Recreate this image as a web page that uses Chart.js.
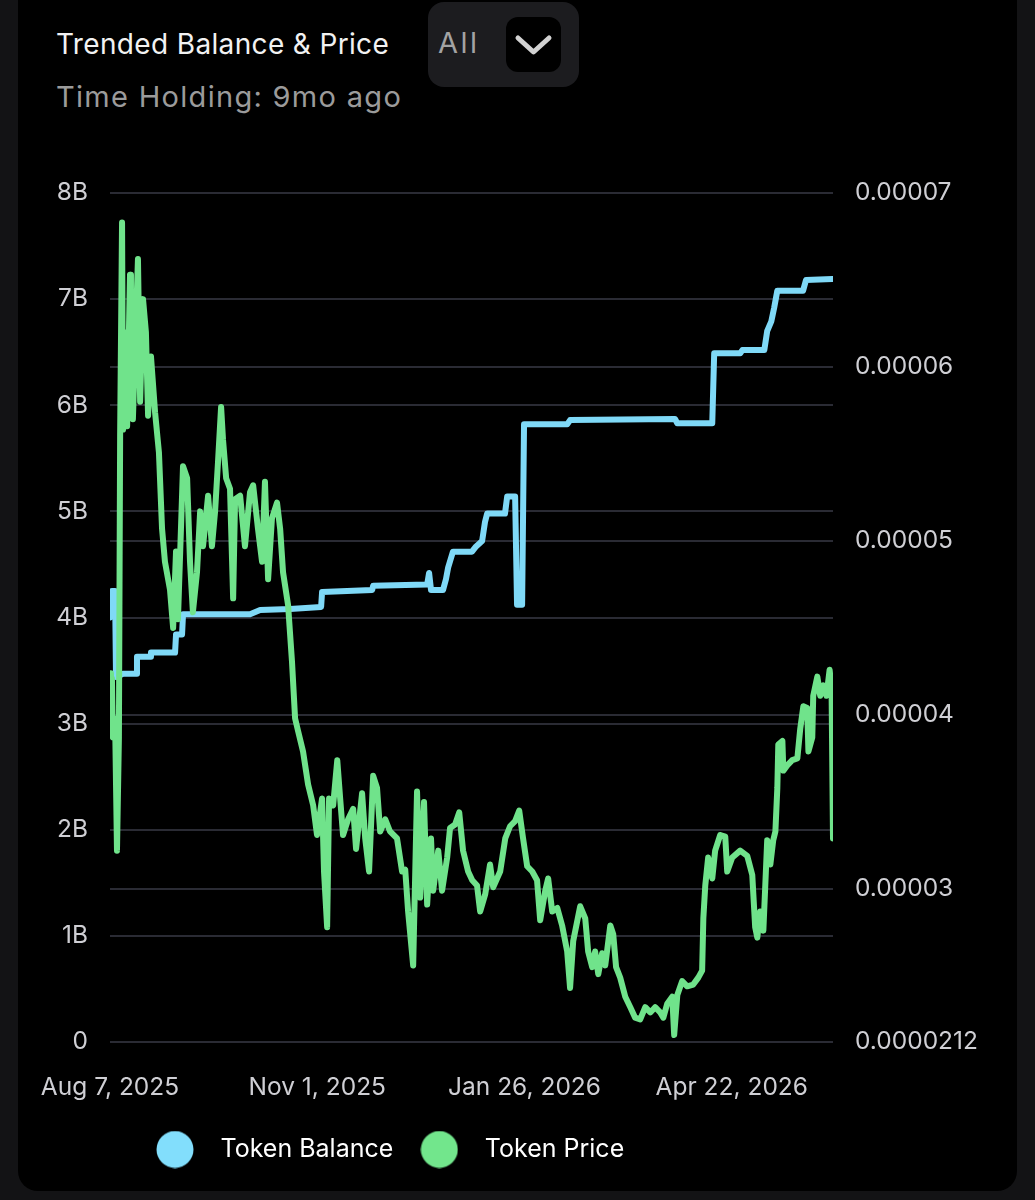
<!DOCTYPE html>
<html>
<head>
<meta charset="utf-8">
<script src="https://cdn.jsdelivr.net/npm/chart.js@4.4.1/dist/chart.umd.min.js"></script>
<style>
html,body{margin:0;padding:0;background:#131315;width:1035px;height:1200px;overflow:hidden;}
#card{position:absolute;left:18px;top:-30px;width:999px;height:1221px;background:#000;border-radius:20px;}
.title{position:absolute;left:56px;top:27px;font:400 28px/34px Inter,sans-serif;color:#f2f2f2;white-space:nowrap;letter-spacing:0.35px;}
.sub{position:absolute;left:56px;top:79px;font:400 29px/36px Inter,sans-serif;color:#9b9b9b;white-space:nowrap;letter-spacing:1.3px;}
#dd{position:absolute;left:428px;top:2px;width:151px;height:85px;background:#1c1c1f;border-radius:16px;}
#dd .all{position:absolute;left:10px;top:24px;font:400 29px/34px Inter,sans-serif;color:#a3a3a3;letter-spacing:2.5px;}
#dd .chev{position:absolute;left:78px;top:15px;width:55px;height:55px;background:#000;border-radius:12px;}
#dd svg{position:absolute;left:0;top:0;}
#chart{position:absolute;left:0;top:0;}
</style>
</head>
<body>
<div id="card"></div>
<div class="title">Trended Balance &amp; Price</div>
<div class="sub">Time Holding: 9mo ago</div>
<div id="dd"><div class="all">All</div><div class="chev"><svg width="55" height="55"><polyline points="12,21 27.5,35 43,21" fill="none" stroke="#d2d2d2" stroke-width="5" stroke-linecap="round" stroke-linejoin="round"/></svg></div></div>
<canvas id="chart" width="1035" height="1200"></canvas>
<script>
// ---- axis ticks ----
const xTickDays = [0, 86, 172, 258];
const xTickLabels = ['Aug 7, 2025', 'Nov 1, 2025', 'Jan 26, 2026', 'Apr 22, 2026'];
const balanceTickValues = [0, 1e9, 2e9, 3e9, 4e9, 5e9, 6e9, 7e9, 8e9];
const balanceTickLabels = ['0', '1B', '2B', '3B', '4B', '5B', '6B', '7B', '8B'];
const priceTickValues = [0.0000212, 0.00003, 0.00004, 0.00005, 0.00006, 0.00007];
const priceTickLabels = ['0.0000212', '0.00003', '0.00004', '0.00005', '0.00006', '0.00007'];

// ---- series: days since Aug 7, 2025 ----
const seriesNames = ['Token Balance', 'Token Price'];
const balanceDays = [0,0.8,2.1,2.5,5.4,10.8,11.2,16.6,17.0,27.0,27.4,29.9,30.3,58.1,62.3,74.7,87.6,88.0,108.8,109.2,131.6,132.4,133.2,138.2,139.4,140.3,142.3,150.2,151.9,154.4,155.6,156.5,163.9,164.8,168.1,168.9,171.0,171.8,189.7,190.9,234.5,235.4,249.9,250.7,261.5,262.4,271.5,272.7,274.4,275.6,276.9,287.6,288.8,299.7];
const balanceValues = [4.00e9,4.25e9,4.25e9,3.44e9,3.47e9,3.47e9,3.63e9,3.63e9,3.67e9,3.67e9,3.84e9,3.84e9,4.03e9,4.03e9,4.07e9,4.08e9,4.10e9,4.24e9,4.26e9,4.30e9,4.31e9,4.42e9,4.26e9,4.26e9,4.36e9,4.47e9,4.62e9,4.62e9,4.67e9,4.72e9,4.90e9,4.98e9,4.98e9,5.14e9,5.14e9,4.12e9,4.12e9,5.82e9,5.82e9,5.86e9,5.87e9,5.83e9,5.83e9,6.49e9,6.49e9,6.52e9,6.52e9,6.70e9,6.79e9,6.92e9,7.08e9,7.08e9,7.18e9,7.19e9];

const priceDays = [0,0.4,0.8,1.2,2.1,2.9,3.7,4.2,5.0,5.4,
6.2,7.1,8.3,8.7,9.5,10.4,11.6,12.5,13.7,14.9,
15.8,17.0,18.7,20.3,21.6,22.8,24.9,26.2,27.4,28.2,
30.3,32.0,33.2,34.4,36.1,37.4,38.6,40.7,42.3,43.6,
44.8,46.1,46.9,48.2,49.8,51.1,51.9,54.0,56.0,58.1,
59.4,61.4,63.1,64.3,65.6,67.2,69.3,70.6,71.8,73.9,
75.5,76.8,78.0,80.1,82.2,84.3,85.9,88.0,88.8,90.1,
90.9,92.6,94.3,95.5,96.7,98.8,100.9,102.1,104.6,105.9,
107.5,109.2,110.8,112.1,114.2,116.2,119.1,121.2,122.5,123.7,
125.8,127.4,128.7,130.3,131.6,133.2,134.1,136.2,137.8,139.9,
141.1,143.2,144.9,146.5,148.6,150.3,152.3,153.6,155.7,157.7,
159.0,161.9,164.0,166.0,168.1,169.8,171.4,173.1,175.2,177.2,
178.5,180.6,181.8,183.5,185.6,187.6,189.7,190.9,192.2,195.1,
197.2,198.4,200.1,201.3,202.6,204.2,205.5,207.6,208.8,210.0,
211.7,213.8,215.9,217.9,220.0,222.1,224.2,226.2,228.3,229.6,
231.2,233.3,234.1,235.4,237.4,239.5,242.0,244.1,245.7,246.2,
247.0,248.2,249.9,251.1,253.2,255.3,256.1,258.2,261.5,264.4,
266.5,267.7,268.6,269.8,271.1,272.7,274.0,275.2,276.1,276.9,
277.3,279.0,279.4,281.0,283.1,285.2,286.4,287.7,289.3,289.8,
291.4,291.8,293.5,294.7,296.0,297.3,298.6,299.4,300.0];
const priceValues = [4.24e-5,3.89e-5,4.21e-5,3.87e-5,3.98e-5,3.22e-5,3.87e-5,5.60e-5,6.83e-5,5.64e-5,
6.20e-5,5.66e-5,6.53e-5,6.30e-5,5.70e-5,6.10e-5,6.62e-5,5.80e-5,6.39e-5,6.20e-5,
5.72e-5,6.06e-5,5.74e-5,5.51e-5,5.07e-5,4.88e-5,4.72e-5,4.50e-5,4.94e-5,4.55e-5,
5.43e-5,5.36e-5,4.88e-5,4.59e-5,4.82e-5,5.17e-5,4.97e-5,5.26e-5,4.97e-5,5.17e-5,
5.45e-5,5.77e-5,5.58e-5,5.36e-5,5.30e-5,4.67e-5,5.24e-5,5.26e-5,4.97e-5,5.28e-5,
5.32e-5,5.07e-5,4.88e-5,5.34e-5,4.78e-5,5.13e-5,5.22e-5,5.07e-5,4.82e-5,4.63e-5,
4.31e-5,3.98e-5,3.91e-5,3.79e-5,3.60e-5,3.48e-5,3.31e-5,3.52e-5,3.10e-5,2.78e-5,
3.52e-5,3.48e-5,3.74e-5,3.52e-5,3.31e-5,3.40e-5,3.46e-5,3.23e-5,3.55e-5,3.29e-5,
3.10e-5,3.65e-5,3.58e-5,3.33e-5,3.40e-5,3.33e-5,3.29e-5,3.10e-5,3.11e-5,2.87e-5,
2.56e-5,3.56e-5,2.95e-5,3.50e-5,2.91e-5,3.29e-5,2.99e-5,3.22e-5,2.99e-5,3.18e-5,
3.35e-5,3.37e-5,3.44e-5,3.22e-5,3.10e-5,3.05e-5,3.02e-5,2.87e-5,2.97e-5,3.14e-5,
3.01e-5,3.10e-5,3.29e-5,3.36e-5,3.39e-5,3.45e-5,3.29e-5,3.13e-5,3.10e-5,3.05e-5,
2.82e-5,2.99e-5,3.06e-5,2.87e-5,2.89e-5,2.79e-5,2.64e-5,2.43e-5,2.70e-5,2.90e-5,
2.83e-5,2.64e-5,2.55e-5,2.64e-5,2.51e-5,2.63e-5,2.56e-5,2.79e-5,2.74e-5,2.55e-5,
2.49e-5,2.38e-5,2.32e-5,2.26e-5,2.25e-5,2.32e-5,2.29e-5,2.32e-5,2.29e-5,2.26e-5,
2.34e-5,2.38e-5,2.16e-5,2.39e-5,2.47e-5,2.44e-5,2.45e-5,2.49e-5,2.53e-5,2.83e-5,
3.02e-5,3.18e-5,3.06e-5,3.22e-5,3.31e-5,3.30e-5,3.10e-5,3.18e-5,3.22e-5,3.19e-5,
3.08e-5,2.78e-5,2.72e-5,2.87e-5,2.76e-5,3.28e-5,3.14e-5,3.28e-5,3.33e-5,3.58e-5,
3.83e-5,3.85e-5,3.68e-5,3.71e-5,3.74e-5,3.75e-5,3.92e-5,4.05e-5,4.04e-5,3.79e-5,
3.87e-5,4.11e-5,4.22e-5,4.11e-5,4.17e-5,4.11e-5,4.26e-5,4.15e-5,3.29e-5];

const seriesColors = ['#7fd9f7', '#70e38b'];
const legendDotColors = ['#82defc', '#72e68c'];

function dot(color) {
  const c = document.createElement('canvas');
  c.width = 38; c.height = 38;
  const g = c.getContext('2d');
  g.fillStyle = color;
  g.beginPath(); g.arc(19, 19, 18.5, 0, Math.PI * 2); g.fill();
  return c;
}

const tickFont = {family: 'Inter', size: 24.5};
const tickColor = '#cfcfd4';
const gridColor = '#2a2b34';

const legendShift = {
  id: 'legendShift',
  afterLayout(chart) { if (chart.legend) { chart.legend.left = 129; } }
};

new Chart(document.getElementById('chart'), {
  type: 'line',
  data: {
    datasets: [
      {
        label: seriesNames[0],
        data: balanceDays.map((d, i) => ({x: d, y: balanceValues[i]})),
        yAxisID: 'yBal',
        borderColor: seriesColors[0],
        borderWidth: 6,
        order: 2
      },
      {
        label: seriesNames[1],
        data: priceDays.map((d, i) => ({x: d, y: priceValues[i]})),
        yAxisID: 'yPrice',
        borderColor: seriesColors[1],
        borderWidth: 6,
        order: 1
      }
    ]
  },
  options: {
    responsive: false,
    animation: false,
    events: [],
    elements: {
      point: {radius: 0},
      line: {tension: 0, borderJoinStyle: 'round', borderCapStyle: 'round', fill: false}
    },
    layout: {padding: {top: 193, bottom: 28, left: 0, right: 0}},
    scales: {
      x: {
        type: 'linear', min: 0, max: 300,
        grid: {display: false},
        border: {display: false},
        afterBuildTicks: s => { s.ticks = xTickDays.map(v => ({value: v})); },
        afterFit: s => { s.height = 82; },
        ticks: {
          autoSkip: false, maxRotation: 0, padding: 23,
          color: tickColor, font: tickFont,
          callback: (v, i) => xTickLabels[i]
        }
      },
      yBal: {
        type: 'linear', position: 'left', min: 0, max: 8e9,
        grid: {color: gridColor, lineWidth: 2, drawTicks: false},
        border: {display: false},
        afterBuildTicks: s => { s.ticks = balanceTickValues.map(v => ({value: v})); },
        afterFit: s => { s.width = 110; },
        ticks: {padding: 22, color: tickColor, font: tickFont, callback: (v, i) => balanceTickLabels[i]}
      },
      yPrice: {
        type: 'linear', position: 'right', min: 0.0000212, max: 0.00007,
        grid: {color: gridColor, lineWidth: 2, drawTicks: false},
        border: {display: false},
        afterBuildTicks: s => { s.ticks = priceTickValues.map(v => ({value: v})); },
        afterFit: s => { s.width = 202; },
        ticks: {padding: 22, color: tickColor, font: tickFont, callback: (v, i) => priceTickLabels[i]}
      }
    },
    plugins: {
      tooltip: {enabled: false},
      legend: {
        position: 'bottom',
        align: 'start',
        labels: {
          usePointStyle: true,
          pointStyleWidth: 66,
          padding: 13,
          color: '#ffffff',
          font: {family: 'Inter', size: 25},
          generateLabels: chart => chart.data.datasets.map((ds, i) => ({
            text: ds.label,
            fillStyle: legendDotColors[i],
            strokeStyle: legendDotColors[i],
            lineWidth: 0,
            pointStyle: dot(legendDotColors[i]),
            fontColor: '#ffffff',
            hidden: false,
            datasetIndex: i
          }))
        }
      }
    }
  },
  plugins: [legendShift]
});
</script>
</body>
</html>
